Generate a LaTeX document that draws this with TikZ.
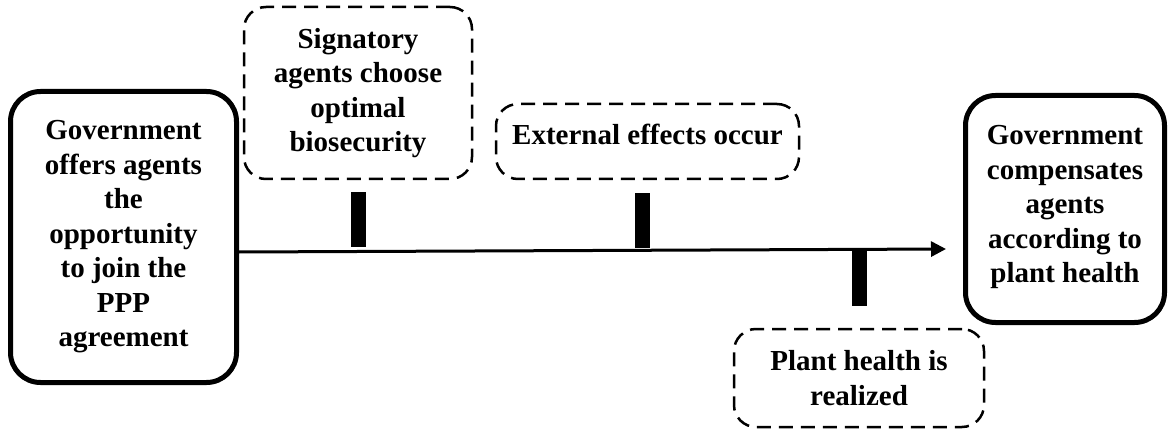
\documentclass[tikz,border=0pt]{standalone}
\usepackage{fontspec}
\setmainfont{Liberation Serif}
\usepackage{tikz}
\usetikzlibrary{arrows.meta, positioning}

\begin{document}
\begin{tikzpicture}[
    x=1pt, y=1pt,
    stage/.style={rectangle, draw, line width=5pt, rounded corners=30pt, align=center, font=\fontsize{29}{34.5}\selectfont\bfseries},
    event/.style={rectangle, draw, line width=2.5pt, dash pattern=on 14pt off 8pt, rounded corners=22pt, align=center, font=\fontsize{29}{34.5}\selectfont\bfseries},
    tickbar/.style={rectangle, fill=black, inner sep=0pt, minimum width=15pt, minimum height=55pt},
    arrow/.style={-{Triangle[length=15pt, width=15pt]}, line width=3pt}
]
    \useasboundingbox (0,0) rectangle (1176,-433);

    \node[stage, minimum width=226pt, minimum height=291pt] (offer) at (123.5,-237) {Government\\offers agents\\the\\opportunity\\to join the\\PPP\\agreement};
    \node[stage, minimum width=199pt, minimum height=227pt, text depth=10pt] (compensate) at (1065,-209) {Government\\compensates\\agents\\according to\\plant health};
    \node[event, minimum width=228pt, minimum height=172pt] (signatory) at (358,-93) {Signatory\\agents choose\\optimal\\biosecurity};
    \node[event, minimum width=303pt, minimum height=75pt, text depth=14pt] (external) at (647.5,-141.5) {External effects occur};
    \node[event, minimum width=250pt, minimum height=98pt] (plant) at (859,-378) {Plant health is\\realized};

    \node[tickbar, below=12pt of signatory] (tick1) {};
    \node[tickbar, below=13pt of external, xshift=-5pt] (tick2) {};
    \node[tickbar, above=22pt of plant] (tick3) {};

    \coordinate (timeend) at (946,-249);
    \draw[arrow] ([yshift=-15pt]offer.east) -- (timeend);
\end{tikzpicture}
\end{document}
